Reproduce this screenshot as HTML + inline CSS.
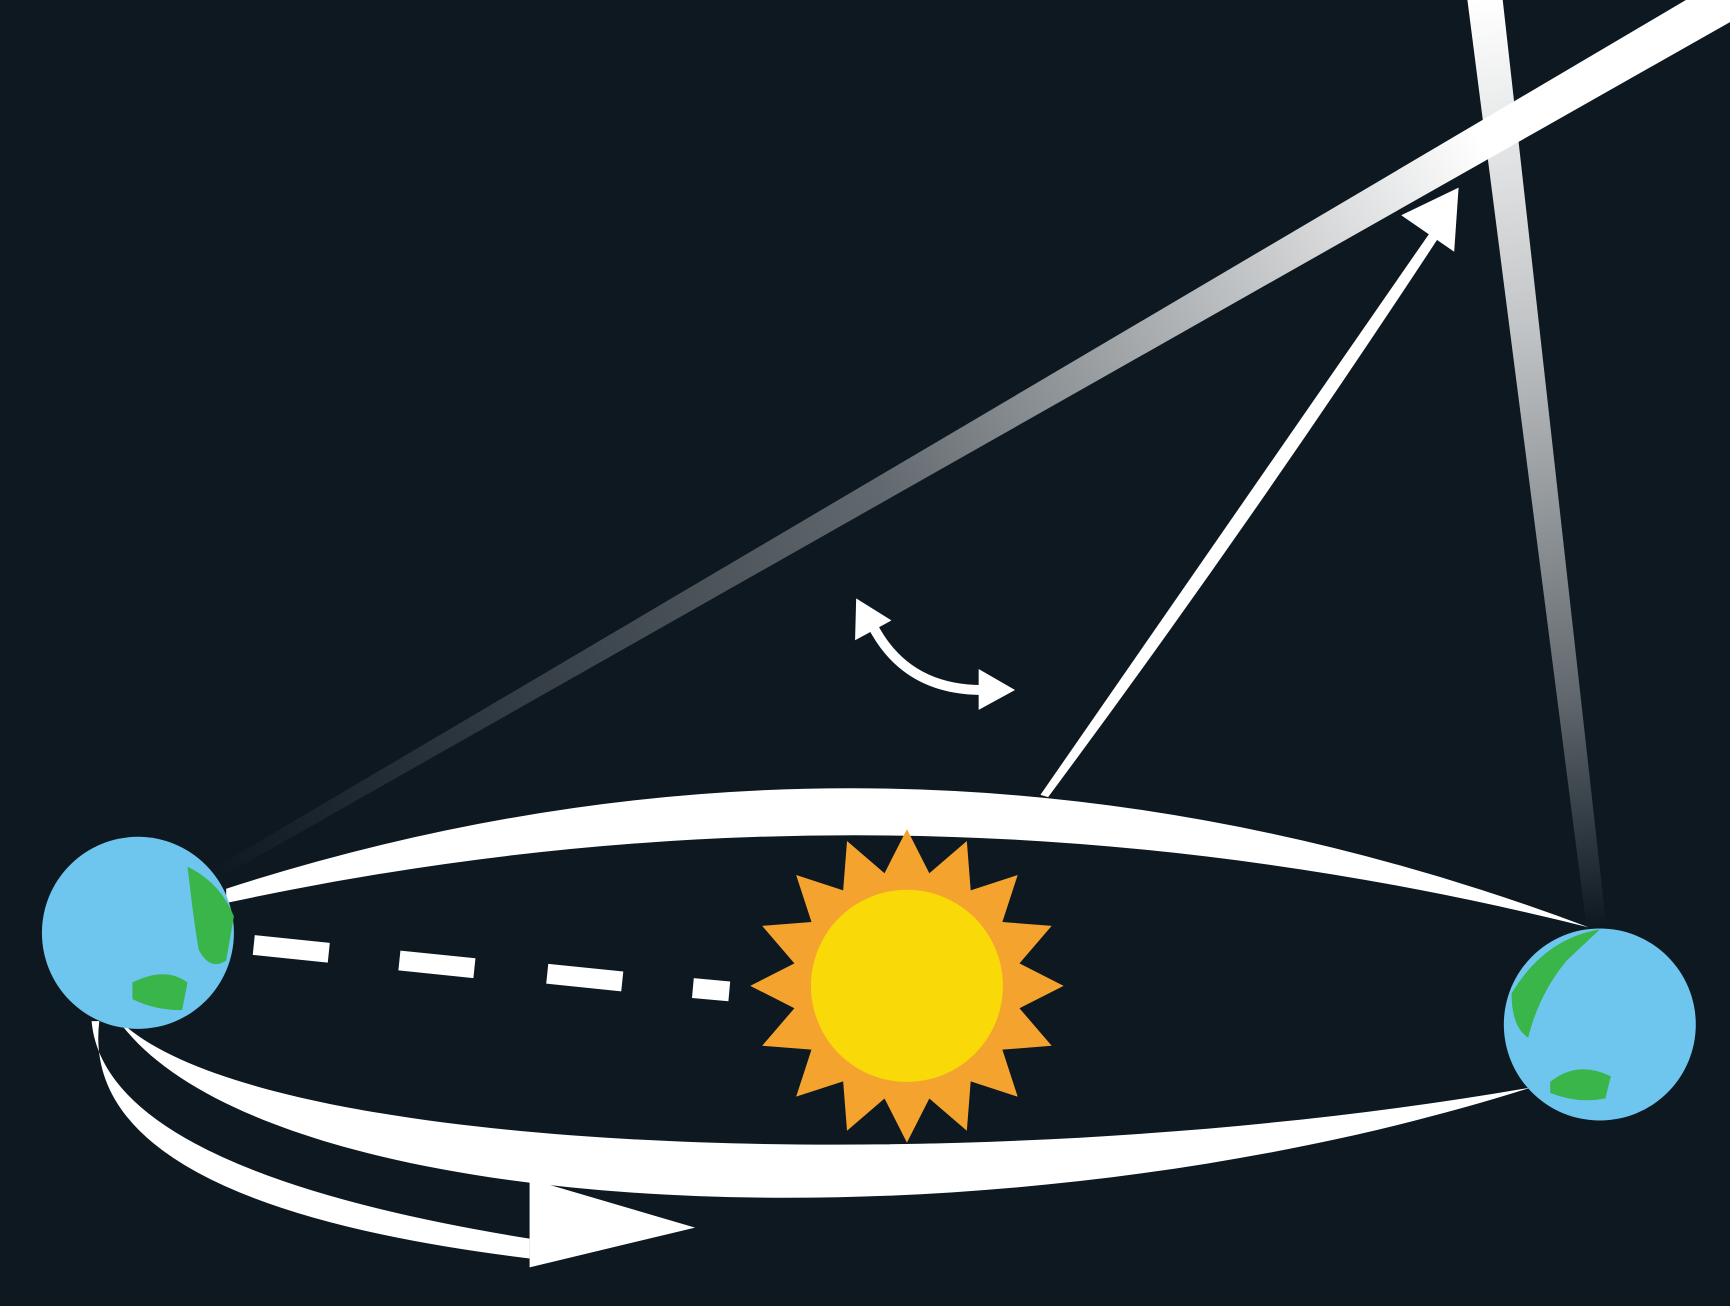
<!DOCTYPE html>
<html><head><meta charset="utf-8"><style>
html,body{margin:0;padding:0;background:#0d1820;}
svg{display:block;}
</style></head><body>
<svg width="1730" height="1306" viewBox="0 0 1568 1183" preserveAspectRatio="none" xmlns="http://www.w3.org/2000/svg">
<defs>
<linearGradient id="g1" gradientUnits="userSpaceOnUse" x1="190" y1="790" x2="1400" y2="90">
<stop offset="0" stop-color="#fff" stop-opacity="0"/>
<stop offset="0.5" stop-color="#fff" stop-opacity="0.35"/>
<stop offset="0.95" stop-color="#fff" stop-opacity="1"/>
<stop offset="1" stop-color="#fff"/>
</linearGradient>
<linearGradient id="g2" gradientUnits="userSpaceOnUse" x1="1345" y1="0" x2="1445" y2="840">
<stop offset="0" stop-color="#fff"/>
<stop offset="0.35" stop-color="#fff" stop-opacity="0.75"/>
<stop offset="0.75" stop-color="#fff" stop-opacity="0.35"/>
<stop offset="1" stop-color="#fff" stop-opacity="0"/>
</linearGradient>
</defs>
<rect x="0" y="0" width="1568" height="1183" fill="#0d1820"/>
<polygon points="188,790 1528,0 1568,0 1568,20 196,797" fill="url(#g1)"/>
<polygon points="1330,0 1362,0 1456,840 1438,840" fill="url(#g2)"/>
<path d="M205,805 Q820,607 1440,840 Q820,685 205,818 Z" fill="#fff"/>
<path d="M110,928 C250,1110 900,1140 1388,985 C900,1070 250,1050 112,928 Z" fill="#fff"/>
<path d="M943,720 L1300,205 L1306,212 Q1130,480 950,722 Z" fill="#fff"/>
<polygon points="1270,195 1322,170 1318,228" fill="#fff"/>
<path d="M790,565 Q820,625 890,625" fill="none" stroke="#fff" stroke-width="9"/>
<polygon points="776,542 808,562 775,580" fill="#fff"/>
<polygon points="887,606 920,625 887,643" fill="#fff"/>
<g stroke="#fff" stroke-width="18">
<line x1="230" y1="856" x2="298" y2="863"/>
<line x1="362" y1="870" x2="430" y2="877"/>
<line x1="496" y1="882" x2="564" y2="889"/>
<line x1="628" y1="895" x2="661" y2="898"/>
</g>
<path d="M83,925 Q95,1060 480,1122 L480,1140 Q70,1090 90,925 Z" fill="#fff"/>
<polygon points="480,1068 630,1112 480,1148" fill="#fff"/>
<g>
<polygon id="star" fill="#f4a42e"/>
<circle cx="822" cy="893" r="87" fill="#f9d908"/>
</g>
<g>
<circle cx="125" cy="845" r="87" fill="#6ec6ef"/>
<path d="M170,785 Q200,800 212,830 L205,870 Q190,880 180,860 Q175,830 170,785 Z" fill="#39b54a"/>
<path d="M120,890 Q150,875 170,890 L165,915 Q140,915 120,905 Z" fill="#39b54a"/>
</g>
<g>
<circle cx="1450" cy="928" r="87" fill="#6ec6ef"/>
<path d="M1370,900 Q1400,850 1450,842 L1420,870 Q1395,900 1385,940 Q1370,930 1370,900 Z" fill="#39b54a"/>
<path d="M1405,980 Q1430,960 1460,975 L1455,995 Q1430,1000 1405,990 Z" fill="#39b54a"/>
</g>
<script>
var star=document.getElementById('star');
var pts=[];
for(var i=0;i<32;i++){var a=Math.PI*2*i/32-Math.PI/2;var r=i%2===0?142:104;pts.push((822+r*Math.cos(a)).toFixed(1)+','+(893+r*Math.sin(a)).toFixed(1));}
star.setAttribute('points',pts.join(' '));
</script>
</svg>
</body></html>
